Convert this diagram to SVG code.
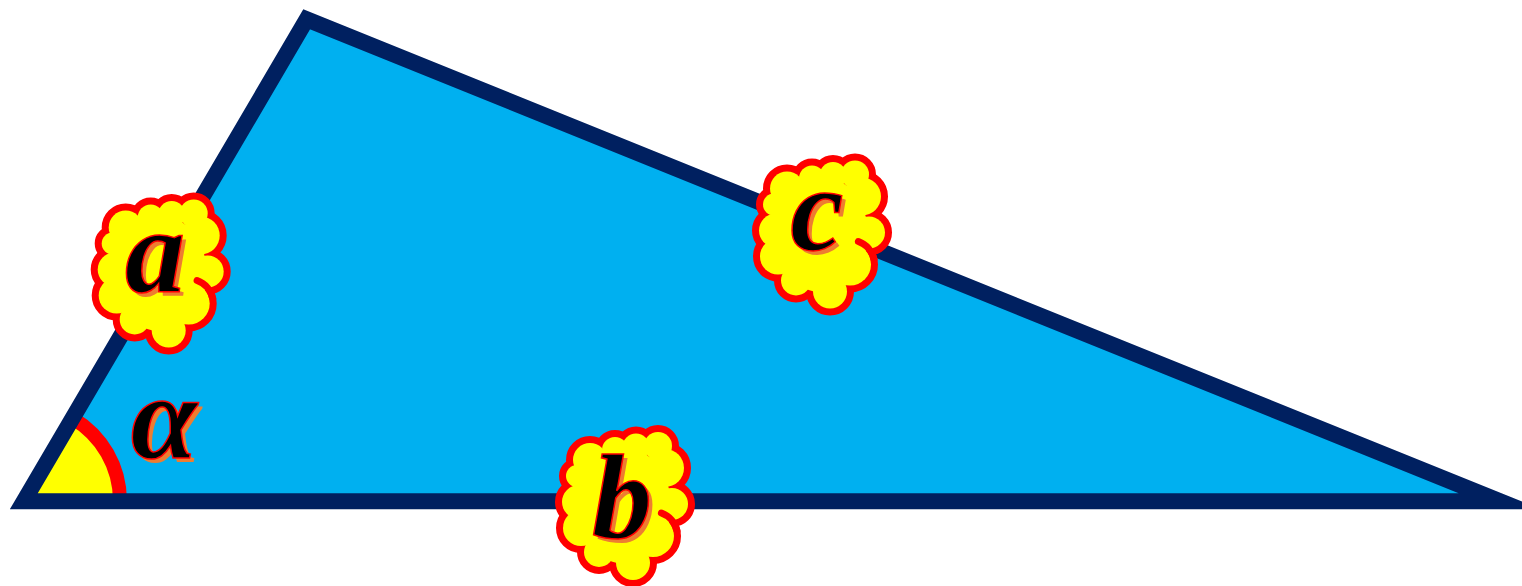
<svg xmlns="http://www.w3.org/2000/svg" xmlns:xlink="http://www.w3.org/1999/xlink" width="1522" height="586" viewBox="0 0 1522 586">
<style>
.tri-fill{fill:#00B0F0;stroke:none}
.tri-edge{fill:none;stroke:#002060;stroke-width:16;stroke-linejoin:miter;stroke-miterlimit:12}
.cl-out{fill:#FF0000;stroke:#FF0000;stroke-width:14}
.cl-in{fill:#FFFF00;stroke:none}
.hook{fill:none;stroke:#FF0000;stroke-width:7;stroke-linecap:round}
.lbl{font-family:"Liberation Serif","Times New Roman",serif;font-weight:bold;font-style:italic;font-size:120px;text-anchor:middle}
.sh{fill:#ED7D31}
.fg{fill:#000000;stroke:#FF0000;stroke-width:1.5}
</style>
<defs>
<g id="blobs">
<ellipse cx="0" cy="0" rx="46" ry="58"/>
<circle cx="-10" cy="-56" r="13"/>
<circle cx="11" cy="-59" r="13.5"/>
<circle cx="33" cy="-60" r="14"/>
<circle cx="40" cy="-38" r="19"/>
<circle cx="47" cy="-2" r="16"/>
<circle cx="28" cy="30" r="21"/>
<circle cx="8" cy="57" r="17"/>
<circle cx="-26" cy="46" r="15"/>
<circle cx="-44" cy="22" r="18"/>
<circle cx="-46" cy="-4" r="17"/>
<circle cx="-48" cy="-30" r="11"/>
<circle cx="-35" cy="-46" r="17"/>
</g>
<g id="cloudShape">
<use xlink:href="#blobs" href="#blobs" class="cl-out"/>
<use xlink:href="#blobs" href="#blobs" class="cl-in"/>
<path class="hook" d="M36.4,7 A24.5,24.5 0 0 1 52,24.9"/>
</g>
</defs>
<g id="triangle">
<polygon class="tri-fill" points="23.8,501.3 306.7,19.3 1500,501.3"/>
<g id="angle-alpha-mark">
<path d="M24,501 L120,501 A96,96 0 0 0 72.6,418.2 Z" fill="#FFFF00"/>
<path d="M120,501 A96,96 0 0 0 72.6,418.2" fill="none" stroke="#FF0000" stroke-width="14"/>
</g>
<polygon class="tri-edge" points="23.8,501.3 306.7,19.3 1500,501.3"/>
</g>
<g id="label-alpha">
<text class="lbl sh" x="168" y="462">α</text>
<text class="lbl fg" x="164" y="458">α</text>
</g>
<g id="cloud-a">
<use xlink:href="#cloudShape" href="#cloudShape" transform="translate(160.7,273.5)"/>
<text class="lbl sh" x="159" y="296">a</text>
<text class="lbl fg" x="155" y="292">a</text>
</g>
<g id="cloud-c">
<use xlink:href="#cloudShape" href="#cloudShape" transform="translate(822,234.5)"/>
<text class="lbl sh" x="821" y="254">c</text>
<text class="lbl fg" x="817" y="250">c</text>
</g>
<g id="cloud-b">
<use xlink:href="#cloudShape" href="#cloudShape" transform="translate(625,506)"/>
<text class="lbl sh" x="626" y="542">b</text>
<text class="lbl fg" x="622" y="538">b</text>
</g>
</svg>
